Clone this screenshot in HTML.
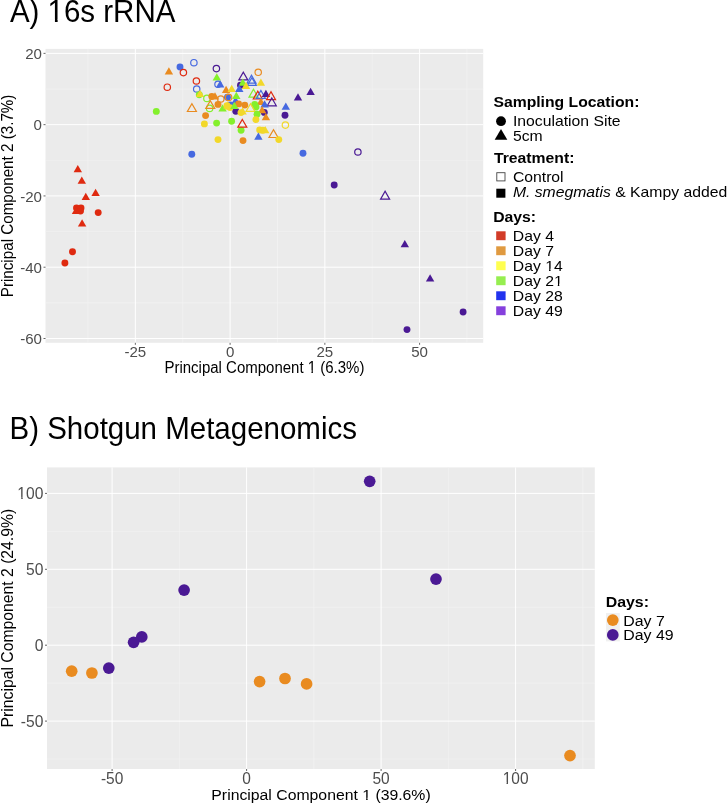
<!DOCTYPE html>
<html><head><meta charset="utf-8"><title>PCA plots</title>
<style>html,body{margin:0;padding:0;background:#fff;width:727px;height:807px;overflow:hidden}svg{display:block;will-change:transform}</style>
</head><body>
<svg width="727" height="807" viewBox="0 0 727 807" font-family='"Liberation Sans", sans-serif'>
<rect width="727" height="807" fill="#fff"/>
<rect x="45.5" y="48.9" width="437.7" height="293.90000000000003" fill="#ebebeb"/>
<line x1="87.97" y1="48.9" x2="87.97" y2="342.8" stroke="#f3f3f3" stroke-width="0.6"/>
<line x1="182.72" y1="48.9" x2="182.72" y2="342.8" stroke="#f3f3f3" stroke-width="0.6"/>
<line x1="277.48" y1="48.9" x2="277.48" y2="342.8" stroke="#f3f3f3" stroke-width="0.6"/>
<line x1="372.23" y1="48.9" x2="372.23" y2="342.8" stroke="#f3f3f3" stroke-width="0.6"/>
<line x1="466.98" y1="48.9" x2="466.98" y2="342.8" stroke="#f3f3f3" stroke-width="0.6"/>
<line x1="45.5" y1="89.01" x2="483.2" y2="89.01" stroke="#f3f3f3" stroke-width="0.6"/>
<line x1="45.5" y1="160.29" x2="483.2" y2="160.29" stroke="#f3f3f3" stroke-width="0.6"/>
<line x1="45.5" y1="231.57" x2="483.2" y2="231.57" stroke="#f3f3f3" stroke-width="0.6"/>
<line x1="45.5" y1="302.85" x2="483.2" y2="302.85" stroke="#f3f3f3" stroke-width="0.6"/>
<line x1="135.35" y1="48.9" x2="135.35" y2="342.8" stroke="#fff" stroke-width="1.0"/>
<line x1="230.10" y1="48.9" x2="230.10" y2="342.8" stroke="#fff" stroke-width="1.0"/>
<line x1="324.85" y1="48.9" x2="324.85" y2="342.8" stroke="#fff" stroke-width="1.0"/>
<line x1="419.60" y1="48.9" x2="419.60" y2="342.8" stroke="#fff" stroke-width="1.0"/>
<line x1="45.5" y1="53.37" x2="483.2" y2="53.37" stroke="#fff" stroke-width="1.0"/>
<line x1="45.5" y1="124.65" x2="483.2" y2="124.65" stroke="#fff" stroke-width="1.0"/>
<line x1="45.5" y1="195.93" x2="483.2" y2="195.93" stroke="#fff" stroke-width="1.0"/>
<line x1="45.5" y1="267.21" x2="483.2" y2="267.21" stroke="#fff" stroke-width="1.0"/>
<line x1="45.5" y1="338.49" x2="483.2" y2="338.49" stroke="#fff" stroke-width="1.0"/>
<line x1="135.35" y1="342.8" x2="135.35" y2="344.8" stroke="#666" stroke-width="1"/>
<text transform="translate(135.35,357.00) scale(1,1.03)" font-size="15.1" fill="#4d4d4d" text-anchor="middle">-25</text>
<line x1="230.10" y1="342.8" x2="230.10" y2="344.8" stroke="#666" stroke-width="1"/>
<text transform="translate(230.10,357.00) scale(1,1.03)" font-size="15.1" fill="#4d4d4d" text-anchor="middle">0</text>
<line x1="324.85" y1="342.8" x2="324.85" y2="344.8" stroke="#666" stroke-width="1"/>
<text transform="translate(324.85,357.00) scale(1,1.03)" font-size="15.1" fill="#4d4d4d" text-anchor="middle">25</text>
<line x1="419.60" y1="342.8" x2="419.60" y2="344.8" stroke="#666" stroke-width="1"/>
<text transform="translate(419.60,357.00) scale(1,1.03)" font-size="15.1" fill="#4d4d4d" text-anchor="middle">50</text>
<line x1="43.5" y1="53.37" x2="45.5" y2="53.37" stroke="#666" stroke-width="1"/>
<text transform="translate(42.00,59.12) scale(1,1.03)" font-size="15.1" fill="#4d4d4d" text-anchor="end">20</text>
<line x1="43.5" y1="124.65" x2="45.5" y2="124.65" stroke="#666" stroke-width="1"/>
<text transform="translate(42.00,130.40) scale(1,1.03)" font-size="15.1" fill="#4d4d4d" text-anchor="end">0</text>
<line x1="43.5" y1="195.93" x2="45.5" y2="195.93" stroke="#666" stroke-width="1"/>
<text transform="translate(42.00,201.68) scale(1,1.03)" font-size="15.1" fill="#4d4d4d" text-anchor="end">-20</text>
<line x1="43.5" y1="267.21" x2="45.5" y2="267.21" stroke="#666" stroke-width="1"/>
<text transform="translate(42.00,272.96) scale(1,1.03)" font-size="15.1" fill="#4d4d4d" text-anchor="end">-40</text>
<line x1="43.5" y1="338.49" x2="45.5" y2="338.49" stroke="#666" stroke-width="1"/>
<text transform="translate(42.00,344.24) scale(1,1.03)" font-size="15.1" fill="#4d4d4d" text-anchor="end">-60</text>
<polygon points="231.40,103.72 239.80,103.72 235.60,96.45" fill="#4669e0"/>
<circle cx="230.30" cy="104.90" r="3.45" fill="#4669e0"/>
<circle cx="264.30" cy="112.40" r="3.45" fill="#4a1994"/>
<circle cx="235.80" cy="111.30" r="3.45" fill="#4a1994"/>
<circle cx="240.50" cy="85.30" r="3.45" fill="#4a1994"/>
<polygon points="164.70,74.62 173.10,74.62 168.90,67.35" fill="#e98b20"/>
<circle cx="180.00" cy="67.00" r="3.45" fill="#4669e0"/>
<circle cx="183.40" cy="72.60" r="3.20" fill="none" stroke="#df2a10" stroke-width="1.2"/>
<circle cx="193.90" cy="62.70" r="3.20" fill="none" stroke="#4669e0" stroke-width="1.2"/>
<circle cx="216.40" cy="68.60" r="3.20" fill="none" stroke="#4a1994" stroke-width="1.2"/>
<polygon points="212.60,80.62 221.00,80.62 216.80,73.35" fill="#84f02c"/>
<circle cx="218.00" cy="84.30" r="3.20" fill="none" stroke="#4669e0" stroke-width="1.2"/>
<polygon points="216.00,87.62 224.40,87.62 220.20,80.35" fill="#4669e0"/>
<circle cx="196.40" cy="81.00" r="3.20" fill="none" stroke="#df2a10" stroke-width="1.2"/>
<circle cx="167.30" cy="87.20" r="3.20" fill="none" stroke="#df2a10" stroke-width="1.2"/>
<circle cx="196.70" cy="89.00" r="3.20" fill="none" stroke="#4669e0" stroke-width="1.2"/>
<circle cx="199.30" cy="94.80" r="3.45" fill="#84f02c"/>
<polygon points="195.80,96.92 204.20,96.92 200.00,89.65" fill="#f2d82a"/>
<polygon points="221.90,92.92 230.30,92.92 226.10,85.65" fill="#e98b20"/>
<polygon points="227.50,91.92 235.90,91.92 231.70,84.65" fill="#f2d82a"/>
<circle cx="206.90" cy="98.40" r="3.20" fill="none" stroke="#84f02c" stroke-width="1.2"/>
<circle cx="211.80" cy="96.50" r="3.45" fill="#e98b20"/>
<polygon points="210.80,99.42 219.20,99.42 215.00,92.15" fill="#e98b20"/>
<circle cx="220.80" cy="99.00" r="3.20" fill="none" stroke="#e98b20" stroke-width="1.2"/>
<circle cx="227.50" cy="97.30" r="3.45" fill="#4669e0"/>
<circle cx="228.60" cy="97.40" r="3.20" fill="none" stroke="#e98b20" stroke-width="1.2"/>
<circle cx="209.60" cy="108.40" r="3.20" fill="none" stroke="#84f02c" stroke-width="1.2"/>
<polygon points="205.80,108.40 214.80,108.40 210.30,100.60" fill="none" stroke="#e98b20" stroke-width="1.2"/>
<circle cx="218.00" cy="104.40" r="3.45" fill="#e98b20"/>
<polygon points="187.40,111.50 196.40,111.50 191.90,103.70" fill="none" stroke="#e98b20" stroke-width="1.2"/>
<circle cx="156.30" cy="111.40" r="3.45" fill="#84f02c"/>
<polygon points="218.40,111.42 226.80,111.42 222.60,104.15" fill="#84f02c"/>
<polygon points="223.20,108.42 231.60,108.42 227.40,101.15" fill="#f2d82a"/>
<polygon points="224.70,109.52 233.10,109.52 228.90,102.25" fill="#f2d82a"/>
<circle cx="205.60" cy="115.60" r="3.45" fill="#e98b20"/>
<circle cx="258.20" cy="72.30" r="3.20" fill="none" stroke="#e98b20" stroke-width="1.2"/>
<polygon points="238.80,79.90 247.80,79.90 243.30,72.10" fill="none" stroke="#4a1994" stroke-width="1.2"/>
<polygon points="247.00,83.10 256.00,83.10 251.50,75.30" fill="none" stroke="#4669e0" stroke-width="1.2"/>
<polygon points="247.40,85.40 256.40,85.40 251.90,77.60" fill="none" stroke="#4669e0" stroke-width="1.2"/>
<polygon points="256.70,85.82 265.10,85.82 260.90,78.55" fill="#f2d82a"/>
<polygon points="238.60,85.72 247.00,85.72 242.80,78.45" fill="#84f02c"/>
<polygon points="241.80,88.92 250.20,88.92 246.00,81.65" fill="#f2d82a"/>
<polygon points="235.10,91.92 243.50,91.92 239.30,84.65" fill="#4669e0"/>
<polygon points="249.00,97.10 258.00,97.10 253.50,89.30" fill="none" stroke="#84f02c" stroke-width="1.2"/>
<polygon points="253.30,99.00 262.30,99.00 257.80,91.20" fill="none" stroke="#df2a10" stroke-width="1.2"/>
<polygon points="256.40,98.30 265.40,98.30 260.90,90.50" fill="none" stroke="#4669e0" stroke-width="1.2"/>
<polygon points="261.70,96.92 270.10,96.92 265.90,89.65" fill="#4a1994"/>
<polygon points="266.50,99.60 275.50,99.60 271.00,91.80" fill="none" stroke="#df2a10" stroke-width="1.2"/>
<polygon points="267.30,105.80 276.30,105.80 271.80,98.00" fill="none" stroke="#4a1994" stroke-width="1.2"/>
<polygon points="256.70,104.92 265.10,104.92 260.90,97.65" fill="#e98b20"/>
<polygon points="260.40,107.42 268.80,107.42 264.60,100.15" fill="#4669e0"/>
<polygon points="232.10,99.12 240.50,99.12 236.30,91.85" fill="#84f02c"/>
<circle cx="238.60" cy="103.90" r="3.45" fill="#e98b20"/>
<circle cx="244.80" cy="105.10" r="3.45" fill="#e98b20"/>
<circle cx="254.70" cy="104.50" r="3.45" fill="#84f02c"/>
<circle cx="256.00" cy="107.00" r="3.45" fill="#84f02c"/>
<polygon points="246.00,111.40 255.00,111.40 250.50,103.60" fill="none" stroke="#f2d82a" stroke-width="1.2"/>
<circle cx="226.90" cy="105.80" r="3.45" fill="#f2d82a"/>
<circle cx="230.00" cy="107.60" r="3.45" fill="#f2d82a"/>
<polygon points="230.10,108.92 238.50,108.92 234.30,101.65" fill="#84f02c"/>
<polygon points="257.90,113.22 266.30,113.22 262.10,105.95" fill="#e98b20"/>
<polygon points="281.60,109.72 290.00,109.72 285.80,102.45" fill="#4669e0"/>
<polygon points="293.80,100.42 302.20,100.42 298.00,93.15" fill="#4a1994"/>
<polygon points="306.40,94.92 314.80,94.92 310.60,87.65" fill="#4a1994"/>
<circle cx="285.00" cy="115.20" r="3.45" fill="#4a1994"/>
<circle cx="241.00" cy="112.60" r="3.45" fill="#f2d82a"/>
<polygon points="238.40,114.52 246.80,114.52 242.60,107.25" fill="#f2d82a"/>
<circle cx="257.00" cy="114.20" r="3.45" fill="#84f02c"/>
<circle cx="204.40" cy="123.90" r="3.45" fill="#f2d82a"/>
<circle cx="216.60" cy="123.10" r="3.45" fill="#84f02c"/>
<circle cx="231.60" cy="121.30" r="3.45" fill="#84f02c"/>
<circle cx="218.00" cy="139.60" r="3.45" fill="#f2d82a"/>
<circle cx="191.80" cy="154.20" r="3.45" fill="#4669e0"/>
<circle cx="285.40" cy="125.10" r="3.20" fill="none" stroke="#f2d82a" stroke-width="1.2"/>
<circle cx="241.10" cy="130.30" r="3.45" fill="#84f02c"/>
<polygon points="237.80,127.20 246.80,127.20 242.30,119.40" fill="none" stroke="#df2a10" stroke-width="1.2"/>
<circle cx="243.00" cy="140.60" r="3.45" fill="#e98b20"/>
<circle cx="259.70" cy="130.00" r="3.45" fill="#f2d82a"/>
<circle cx="262.80" cy="130.30" r="3.45" fill="#f2d82a"/>
<polygon points="261.00,133.22 269.40,133.22 265.20,125.95" fill="#f2d82a"/>
<polygon points="269.00,137.50 278.00,137.50 273.50,129.70" fill="none" stroke="#e98b20" stroke-width="1.2"/>
<circle cx="278.80" cy="139.60" r="3.45" fill="#f2d82a"/>
<polygon points="254.20,139.82 262.60,139.82 258.40,132.55" fill="#4669e0"/>
<circle cx="303.00" cy="153.30" r="3.45" fill="#4669e0"/>
<circle cx="255.90" cy="119.60" r="3.45" fill="#f2d82a"/>
<polygon points="261.70,120.22 270.10,120.22 265.90,112.95" fill="#e98b20"/>
<circle cx="357.90" cy="152.00" r="3.20" fill="none" stroke="#4a1994" stroke-width="1.2"/>
<circle cx="334.20" cy="185.00" r="3.45" fill="#4a1994"/>
<polygon points="380.60,199.10 389.60,199.10 385.10,191.30" fill="none" stroke="#4a1994" stroke-width="1.2"/>
<polygon points="400.60,247.22 409.00,247.22 404.80,239.95" fill="#4a1994"/>
<polygon points="425.90,281.52 434.30,281.52 430.10,274.25" fill="#4a1994"/>
<circle cx="463.10" cy="312.00" r="3.45" fill="#4a1994"/>
<circle cx="407.00" cy="329.60" r="3.45" fill="#4a1994"/>
<polygon points="73.60,172.22 82.00,172.22 77.80,164.95" fill="#df2a10"/>
<polygon points="77.60,183.82 86.00,183.82 81.80,176.55" fill="#df2a10"/>
<polygon points="91.40,196.02 99.80,196.02 95.60,188.75" fill="#df2a10"/>
<polygon points="81.60,200.12 90.00,200.12 85.80,192.85" fill="#df2a10"/>
<circle cx="76.50" cy="208.00" r="3.45" fill="#df2a10"/>
<circle cx="81.00" cy="208.00" r="3.45" fill="#df2a10"/>
<circle cx="80.50" cy="211.00" r="3.45" fill="#df2a10"/>
<polygon points="71.80,213.92 80.20,213.92 76.00,206.65" fill="#df2a10"/>
<circle cx="98.20" cy="212.60" r="3.45" fill="#df2a10"/>
<polygon points="77.90,226.62 86.30,226.62 82.10,219.35" fill="#df2a10"/>
<circle cx="72.50" cy="251.80" r="3.45" fill="#df2a10"/>
<circle cx="64.90" cy="263.00" r="3.45" fill="#df2a10"/>
<text transform="translate(264.40,372.50) scale(1,1.04)" font-size="15" text-anchor="middle" fill="#000">Principal Component 1 (6.3%)</text>
<text transform="translate(12.60,195.90) rotate(-90) scale(1,1.04)" font-size="15.2" text-anchor="middle" fill="#000">Principal Component 2 (3.7%)</text>
<text transform="translate(9.90,22.40) scale(1,1.04)" font-size="29.5" fill="#000">A) 16s rRNA</text>
<text transform="translate(493.40,106.80) scale(1,0.96)" font-size="15.75" font-weight="bold" fill="#000">Sampling Location:</text>
<circle cx="501" cy="121.2" r="4.9" fill="#000"/>
<text transform="translate(513.00,126.40) scale(1,0.96)" font-size="15.75" fill="#000">Inoculation Site</text>
<polygon points="494.70,139.84 507.30,139.84 501.00,128.93" fill="#000"/>
<text transform="translate(513.00,141.20) scale(1,0.96)" font-size="15.75" fill="#000">5cm</text>
<text transform="translate(494.00,162.80) scale(1,0.96)" font-size="15.75" font-weight="bold" fill="#000">Treatment:</text>
<rect x="496.8" y="172.7" width="8.2" height="8.2" fill="#fff" stroke="#444" stroke-width="0.9"/>
<text transform="translate(512.90,182.10) scale(1,0.96)" font-size="15.75" fill="#000">Control</text>
<rect x="496.3" y="188.7" width="9.1" height="9.0" fill="#000"/>
<text transform="translate(512.90,197.30) scale(1,0.96)" font-size="15.75" fill="#000"><tspan font-style="italic">M. smegmatis</tspan> &amp; Kampy added</text>
<text transform="translate(493.20,221.80) scale(1,0.96)" font-size="15.75" font-weight="bold" fill="#000">Days:</text>
<rect x="496.2" y="231.30" width="9.4" height="8.9" fill="#d23c28"/>
<text transform="translate(512.80,240.80) scale(1,0.96)" font-size="15.75" fill="#000">Day 4</text>
<rect x="496.2" y="246.30" width="9.4" height="8.9" fill="#e09a40"/>
<text transform="translate(512.80,255.80) scale(1,0.96)" font-size="15.75" fill="#000">Day 7</text>
<rect x="496.2" y="261.30" width="9.4" height="8.9" fill="#ffff50"/>
<text transform="translate(512.80,270.80) scale(1,0.96)" font-size="15.75" fill="#000">Day 14</text>
<rect x="496.2" y="276.30" width="9.4" height="8.9" fill="#96ee50"/>
<text transform="translate(512.80,285.80) scale(1,0.96)" font-size="15.75" fill="#000">Day 21</text>
<rect x="496.2" y="291.30" width="9.4" height="8.9" fill="#2233ee"/>
<text transform="translate(512.80,300.80) scale(1,0.96)" font-size="15.75" fill="#000">Day 28</text>
<rect x="496.2" y="306.30" width="9.4" height="8.9" fill="#8540dd"/>
<text transform="translate(512.80,315.80) scale(1,0.96)" font-size="15.75" fill="#000">Day 49</text>
<rect x="47.0" y="467.4" width="547.8" height="301.6" fill="#ebebeb"/>
<line x1="179.35" y1="467.4" x2="179.35" y2="769.0" stroke="#f3f3f3" stroke-width="0.6"/>
<line x1="313.85" y1="467.4" x2="313.85" y2="769.0" stroke="#f3f3f3" stroke-width="0.6"/>
<line x1="448.35" y1="467.4" x2="448.35" y2="769.0" stroke="#f3f3f3" stroke-width="0.6"/>
<line x1="582.85" y1="467.4" x2="582.85" y2="769.0" stroke="#f3f3f3" stroke-width="0.6"/>
<line x1="47.0" y1="531.35" x2="594.8" y2="531.35" stroke="#f3f3f3" stroke-width="0.6"/>
<line x1="47.0" y1="607.25" x2="594.8" y2="607.25" stroke="#f3f3f3" stroke-width="0.6"/>
<line x1="47.0" y1="683.15" x2="594.8" y2="683.15" stroke="#f3f3f3" stroke-width="0.6"/>
<line x1="47.0" y1="759.05" x2="594.8" y2="759.05" stroke="#f3f3f3" stroke-width="0.6"/>
<line x1="112.10" y1="467.4" x2="112.10" y2="769.0" stroke="#fff" stroke-width="1.0"/>
<line x1="246.60" y1="467.4" x2="246.60" y2="769.0" stroke="#fff" stroke-width="1.0"/>
<line x1="381.10" y1="467.4" x2="381.10" y2="769.0" stroke="#fff" stroke-width="1.0"/>
<line x1="515.60" y1="467.4" x2="515.60" y2="769.0" stroke="#fff" stroke-width="1.0"/>
<line x1="47.0" y1="493.40" x2="594.8" y2="493.40" stroke="#fff" stroke-width="1.0"/>
<line x1="47.0" y1="569.30" x2="594.8" y2="569.30" stroke="#fff" stroke-width="1.0"/>
<line x1="47.0" y1="645.20" x2="594.8" y2="645.20" stroke="#fff" stroke-width="1.0"/>
<line x1="47.0" y1="721.10" x2="594.8" y2="721.10" stroke="#fff" stroke-width="1.0"/>
<line x1="112.10" y1="769.0" x2="112.10" y2="771.0" stroke="#666" stroke-width="1"/>
<text transform="translate(112.10,784.30) scale(1,1.02)" font-size="15.5" fill="#4d4d4d" text-anchor="middle">-50</text>
<line x1="246.60" y1="769.0" x2="246.60" y2="771.0" stroke="#666" stroke-width="1"/>
<text transform="translate(246.60,784.30) scale(1,1.02)" font-size="15.5" fill="#4d4d4d" text-anchor="middle">0</text>
<line x1="381.10" y1="769.0" x2="381.10" y2="771.0" stroke="#666" stroke-width="1"/>
<text transform="translate(381.10,784.30) scale(1,1.02)" font-size="15.5" fill="#4d4d4d" text-anchor="middle">50</text>
<line x1="515.60" y1="769.0" x2="515.60" y2="771.0" stroke="#666" stroke-width="1"/>
<text transform="translate(515.60,784.30) scale(1,1.02)" font-size="15.5" fill="#4d4d4d" text-anchor="middle">100</text>
<line x1="45.0" y1="493.40" x2="47.0" y2="493.40" stroke="#666" stroke-width="1"/>
<text transform="translate(43.40,499.00) scale(1,1.0)" font-size="15.6" fill="#4d4d4d" text-anchor="end">100</text>
<line x1="45.0" y1="569.30" x2="47.0" y2="569.30" stroke="#666" stroke-width="1"/>
<text transform="translate(43.40,574.90) scale(1,1.0)" font-size="15.6" fill="#4d4d4d" text-anchor="end">50</text>
<line x1="45.0" y1="645.20" x2="47.0" y2="645.20" stroke="#666" stroke-width="1"/>
<text transform="translate(43.40,650.80) scale(1,1.0)" font-size="15.6" fill="#4d4d4d" text-anchor="end">0</text>
<line x1="45.0" y1="721.10" x2="47.0" y2="721.10" stroke="#666" stroke-width="1"/>
<text transform="translate(43.40,726.70) scale(1,1.0)" font-size="15.6" fill="#4d4d4d" text-anchor="end">-50</text>
<circle cx="369.7" cy="481.3" r="5.85" fill="#4a1994"/>
<circle cx="436.0" cy="579.1" r="5.85" fill="#4a1994"/>
<circle cx="184.1" cy="590.1" r="5.85" fill="#4a1994"/>
<circle cx="141.8" cy="636.9" r="5.85" fill="#4a1994"/>
<circle cx="133.6" cy="642.3" r="5.85" fill="#4a1994"/>
<circle cx="108.8" cy="668.1" r="5.85" fill="#4a1994"/>
<circle cx="71.7" cy="671.2" r="5.85" fill="#e98b20"/>
<circle cx="91.9" cy="673.0" r="5.85" fill="#e98b20"/>
<circle cx="259.6" cy="681.6" r="5.85" fill="#e98b20"/>
<circle cx="285.0" cy="678.5" r="5.85" fill="#e98b20"/>
<circle cx="306.6" cy="683.9" r="5.85" fill="#e98b20"/>
<circle cx="570.0" cy="755.6" r="5.85" fill="#e98b20"/>
<text transform="translate(321.00,799.80) scale(1,0.98)" font-size="15.8" text-anchor="middle" fill="#000">Principal Component 1 (39.6%)</text>
<text transform="translate(12.50,618.10) rotate(-90) scale(1,0.99)" font-size="15.75" text-anchor="middle" fill="#000">Principal Component 2 (24.9%)</text>
<text transform="translate(9.50,438.60) scale(1,1.04)" font-size="29.5" fill="#000">B) Shotgun Metagenomics</text>
<text transform="translate(605.70,607.00) scale(1,0.95)" font-size="15.9" font-weight="bold" fill="#000">Days:</text>
<rect x="606" y="613.0" width="13.8" height="28.4" fill="#f0f0f0"/>
<circle cx="612.8" cy="620.1" r="5.85" fill="#e98b20"/>
<circle cx="612.8" cy="634.9" r="5.85" fill="#4a1994"/>
<text transform="translate(623.20,625.80) scale(1,0.95)" font-size="15.9" fill="#000">Day 7</text>
<text transform="translate(623.20,640.30) scale(1,0.95)" font-size="15.9" fill="#000">Day 49</text>
<g transform="translate(264.40,372.50) scale(1,1.04)"><rect x="43.57" y="-2.12" width="3.48" height="3.02" fill="#fff"/><rect x="48.48" y="-2.12" width="3.41" height="3.02" fill="#fff"/></g>
<g transform="translate(9.90,22.40) scale(1,1.04)"><rect x="39.01" y="-3.20" width="6.02" height="4.10" fill="#fff"/><rect x="47.74" y="-3.20" width="5.84" height="4.10" fill="#fff"/></g>
<g transform="translate(512.80,270.80) scale(1,0.96)"><rect x="32.64" y="-2.18" width="3.61" height="3.08" fill="#fff"/><rect x="37.75" y="-2.18" width="3.54" height="3.08" fill="#fff"/></g>
<g transform="translate(512.80,285.80) scale(1,0.96)"><rect x="41.39" y="-2.18" width="3.61" height="3.08" fill="#fff"/><rect x="46.50" y="-2.18" width="3.54" height="3.08" fill="#fff"/></g>
<g transform="translate(515.60,784.30) scale(1,1.02)"><rect x="-12.64" y="-2.16" width="3.57" height="3.06" fill="#fff"/><rect x="-7.61" y="-2.16" width="3.50" height="3.06" fill="#fff"/></g>
<g transform="translate(43.40,499.00) scale(1,1.0)"><rect x="-25.74" y="-2.17" width="3.58" height="3.07" fill="#fff"/><rect x="-20.68" y="-2.17" width="3.51" height="3.07" fill="#fff"/></g>
<g transform="translate(321.00,799.80) scale(1,0.98)"><rect x="41.53" y="-2.18" width="3.62" height="3.08" fill="#fff"/><rect x="46.64" y="-2.18" width="3.55" height="3.08" fill="#fff"/></g>
</svg>
</body></html>
